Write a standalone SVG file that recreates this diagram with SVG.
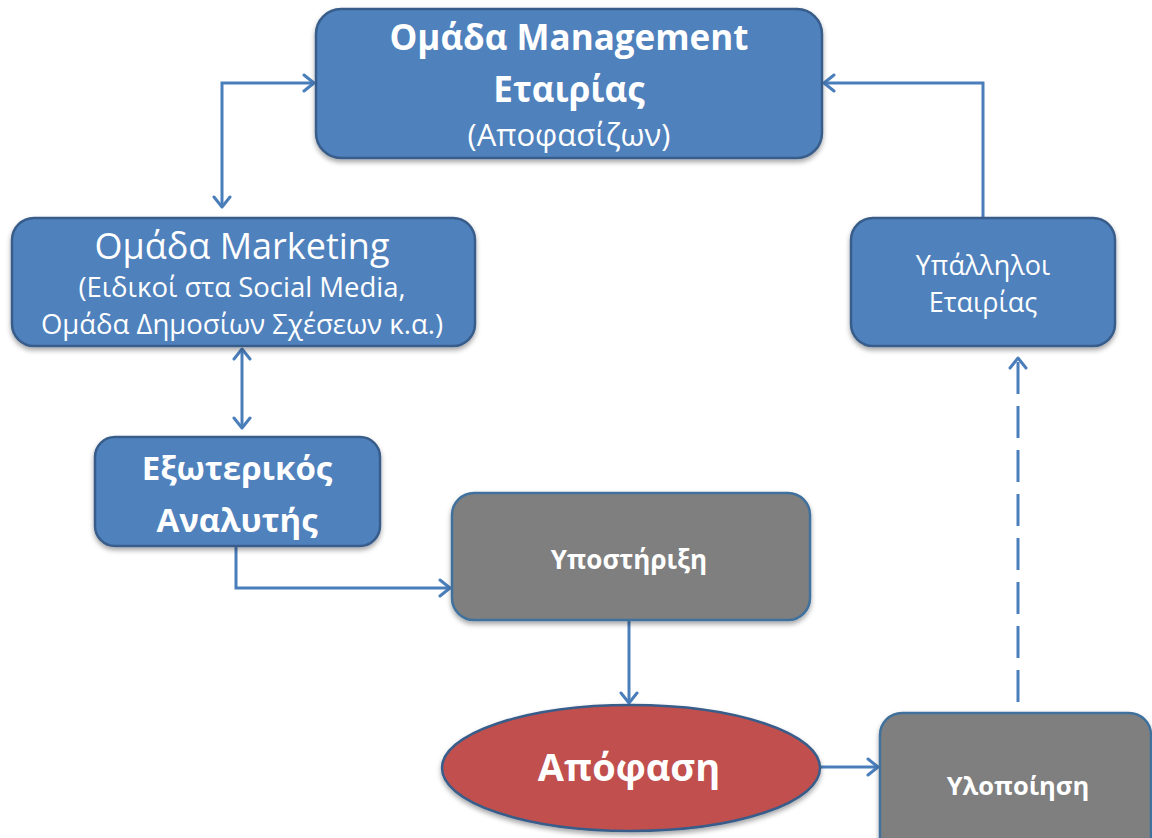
<svg xmlns="http://www.w3.org/2000/svg" width="1152" height="838" viewBox="0 0 1152 838">
  <defs>
    <filter id="shadow" x="-10%" y="-10%" width="120%" height="130%">
      <feDropShadow dx="0" dy="3" stdDeviation="2.5" flood-color="#000" flood-opacity="0.35"/>
    </filter>
    <marker id="chevron" viewBox="-12 -10 14 20" refX="0" refY="0" markerWidth="14" markerHeight="20" markerUnits="userSpaceOnUse" orient="auto-start-reverse">
      <path d="M-10,-8 L0,0 L-10,8" fill="none" stroke="#4a7ebb" stroke-width="3" stroke-linecap="round" stroke-linejoin="round"/>
    </marker>
    <style>
      .blue { fill: #4f81bd; stroke: #385d8a; stroke-width: 2.5; filter: url(#shadow); }
      .grey { fill: #7f7f7f; stroke: #41719c; stroke-width: 2.5; filter: url(#shadow); }
      .red { fill: #c0504d; stroke: #385d8a; stroke-width: 2.5; filter: url(#shadow); }
      text { font-family: "Open Sans", "Noto Sans", "DejaVu Sans", sans-serif; fill: #ffffff; text-anchor: middle; }
      .b { font-weight: bold; }
      .link { fill: none; stroke: #4a7ebb; stroke-width: 3; }
      .dash { stroke-dasharray: 32 12; }
    </style>
  </defs>

  <!-- connectors -->
  <g id="connectors">
    <path class="link" d="M222,207 V83 H314" marker-start="url(#chevron)" marker-end="url(#chevron)"/>
    <path class="link" d="M983,218 V83 H824" marker-end="url(#chevron)"/>
    <path class="link" d="M242,349 V428" marker-start="url(#chevron)" marker-end="url(#chevron)"/>
    <path class="link" d="M236,547 V588 H450" marker-end="url(#chevron)"/>
    <path class="link" d="M629,621 V703" marker-end="url(#chevron)"/>
    <path class="link" d="M821,767 H878" marker-end="url(#chevron)"/>
    <path class="link dash" d="M1018,702 V358" marker-end="url(#chevron)"/>
  </g>

  <!-- management team -->
  <g id="management">
    <rect class="blue" x="316" y="9" width="506" height="149" rx="25"/>
    <text class="b" x="569" y="50" font-size="35">Ομάδα Management</text>
    <text class="b" x="569" y="102" font-size="35">Εταιρίας</text>
    <text x="569" y="146" font-size="31">(Αποφασίζων)</text>
  </g>

  <!-- marketing team -->
  <g id="marketing">
    <rect class="blue" x="12" y="218" width="463" height="128" rx="22"/>
    <text x="242" y="259" font-size="36">Ομάδα Marketing</text>
    <text x="242" y="297" font-size="27.5">(Ειδικοί στα Social Media,</text>
    <text x="242" y="334" font-size="27.5">Ομάδα Δημοσίων Σχέσεων κ.α.)</text>
  </g>

  <!-- employees -->
  <g id="employees">
    <rect class="blue" x="851" y="218" width="264" height="128" rx="22"/>
    <text x="983" y="275" font-size="27">Υπάλληλοι</text>
    <text x="983" y="312" font-size="27">Εταιρίας</text>
  </g>

  <!-- external analyst -->
  <g id="analyst">
    <rect class="blue" x="95" y="437" width="285" height="109" rx="20"/>
    <text class="b" x="237" y="480" font-size="33">Εξωτερικός</text>
    <text class="b" x="237" y="532" font-size="33">Αναλυτής</text>
  </g>

  <!-- support -->
  <g id="support">
    <rect class="grey" x="452" y="493" width="358" height="127" rx="22"/>
    <text class="b" x="629" y="569" font-size="26">Υποστήριξη</text>
  </g>

  <!-- decision -->
  <g id="decision">
    <ellipse class="red" cx="631" cy="768" rx="189" ry="63"/>
    <text class="b" x="629" y="781" font-size="38">Απόφαση</text>
  </g>

  <!-- implementation -->
  <g id="implementation">
    <rect class="grey" x="880" y="713" width="271" height="150" rx="22"/>
    <text class="b" x="1018" y="795" font-size="25.5">Υλοποίηση</text>
  </g>
</svg>
